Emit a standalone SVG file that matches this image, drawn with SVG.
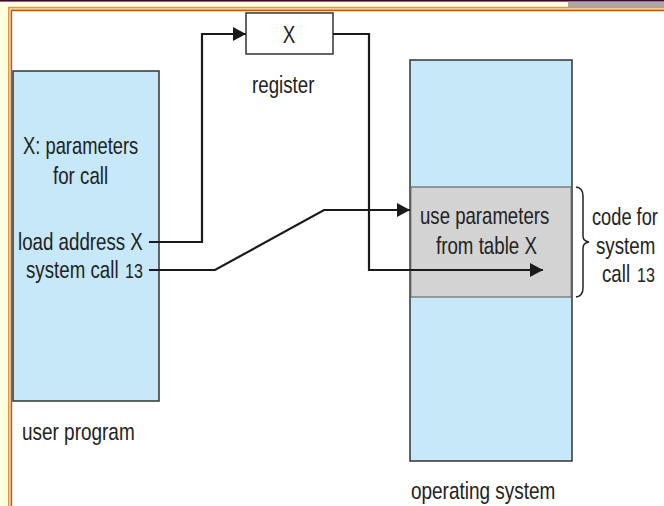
<svg xmlns="http://www.w3.org/2000/svg" width="664" height="506" viewBox="0 0 664 506">
<defs>
<style>
.t{font-family:"Liberation Sans","Noto Sans",Arial,sans-serif;font-size:24px;fill:#222}
.s{font-size:20px}
.box{fill:#C6E8F8;stroke:#333;stroke-width:1.5}
.gray{fill:#D3D3D3;stroke:#555;stroke-width:1}
.conn{fill:none;stroke:#1a1a1a;stroke-width:2.2}
</style>
<marker id="ah" markerUnits="userSpaceOnUse" markerWidth="14" markerHeight="14" viewBox="0 0 14 14" refX="13" refY="7" orient="auto">
<path d="M0,0 L13,7 L0,14 Z" fill="#1a1a1a"/>
</marker>
</defs>
<rect width="664" height="506" fill="#FFFFFF"/>
<g id="frame">
<rect x="0" y="0" width="9" height="506" fill="#FFFFE0"/>
<rect x="0" y="0" width="664" height="7" fill="#FFFFE0"/>
<rect x="0" y="0" width="664" height="1.6" fill="#3A0A2C"/>
<rect x="568" y="1.6" width="96" height="5.6" fill="#A9A6AD"/>
<path d="M8.8,506 V7.6 H664" fill="none" stroke="#E39A3C" stroke-width="1.6"/>
<path d="M11.4,506 V10.4 H664" fill="none" stroke="#B85A06" stroke-width="1.6"/>
</g>
<g id="user-program">
<rect class="box" x="13" y="71" width="146" height="330"/>
<text class="t" transform="translate(23,154) scale(0.765,1)">X: parameters</text>
<text class="t" transform="translate(53,184) scale(0.78,1)">for call</text>
<text class="t" transform="translate(18,250) scale(0.78,1)">load address X</text>
<text class="t" transform="translate(26,278) scale(0.78,1)">system call</text>
<text class="t s" transform="translate(125,278) scale(0.8,1)">13</text>
<text class="t" transform="translate(22,440) scale(0.79,1)">user program</text>
</g>
<g id="register">
<rect x="246" y="13" width="87" height="41" fill="#FFFFFF" stroke="#333" stroke-width="1.5"/>
<text class="t" transform="translate(289,43) scale(0.78,1)" text-anchor="middle">X</text>
<text class="t" transform="translate(252,93) scale(0.78,1)">register</text>
</g>
<g id="operating-system">
<rect class="box" x="410" y="60" width="162" height="401"/>
<rect class="gray" x="410.8" y="187" width="160.4" height="110"/>
<text class="t" transform="translate(420,224) scale(0.775,1)">use parameters</text>
<text class="t" transform="translate(436,254) scale(0.78,1)">from table X</text>
<text class="t" transform="translate(411,499) scale(0.79,1)">operating system</text>
</g>
<g id="code-label">
<path d="M576,187 Q583,188 583,196 V236 Q583,241 589,242 Q583,243 583,248 V288 Q583,296 576,297" fill="none" stroke="#222" stroke-width="1.5"/>
<text class="t" transform="translate(592,225) scale(0.76,1)">code for</text>
<text class="t" transform="translate(596,254) scale(0.78,1)">system</text>
<text class="t" transform="translate(602,282) scale(0.78,1)">call</text>
<text class="t s" transform="translate(637,282) scale(0.8,1)">13</text>
</g>
<g id="connectors">
<path class="conn" d="M149,242 H202 V34 H246" marker-end="url(#ah)"/>
<path class="conn" d="M149,270 H215 L324,210 H410" marker-end="url(#ah)"/>
<path class="conn" d="M333,34 H369 V270 H543" marker-end="url(#ah)"/>
</g>
</svg>
